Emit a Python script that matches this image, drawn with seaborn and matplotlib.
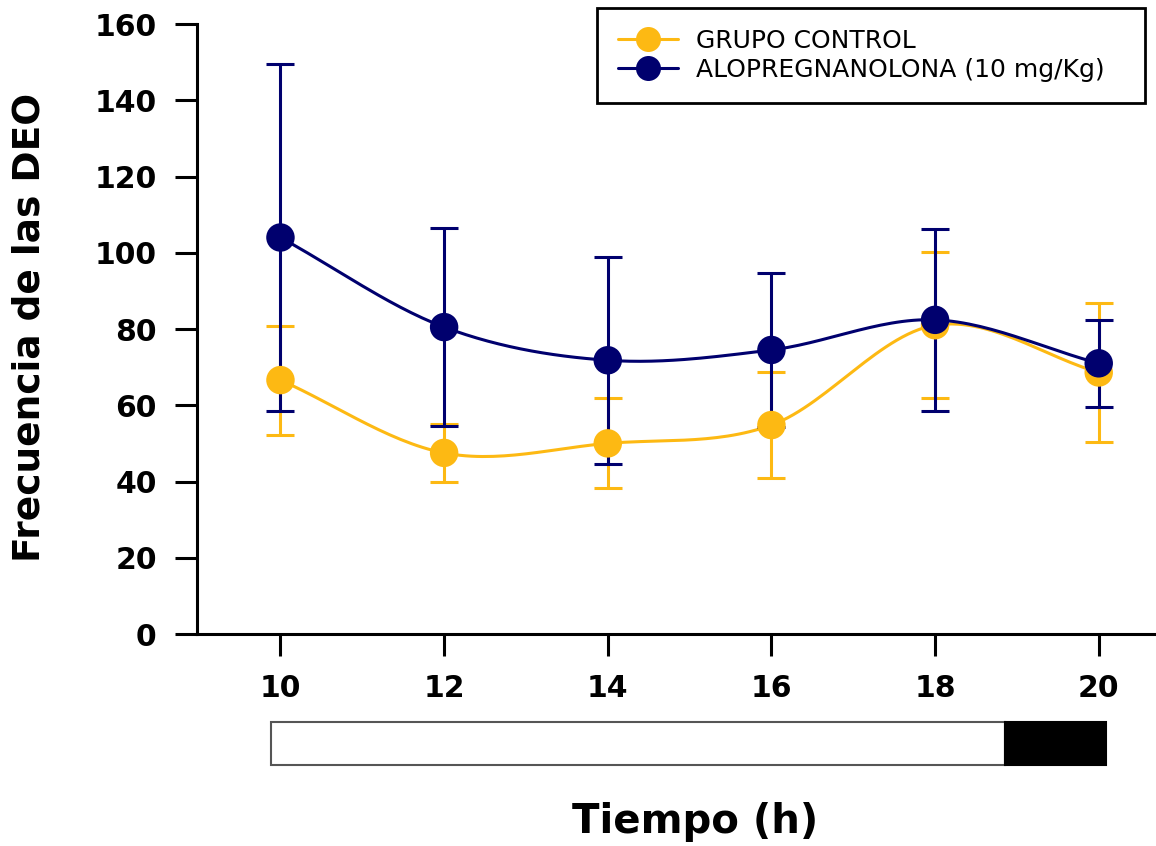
import numpy as np
import pandas as pd
import matplotlib
matplotlib.use("Agg")
import matplotlib.pyplot as plt
from matplotlib.patches import Rectangle
from matplotlib.lines import Line2D
import seaborn as sns

# --- data --------------------------------------------------------------
hours = [10, 12, 14, 16, 18, 20]
control_mean = [66.6, 47.5, 50.0, 54.8, 81.0, 68.6]
control_err = [14.3, 7.5, 11.8, 13.8, 19.2, 18.2]
alo_mean = [104.0, 80.5, 71.8, 74.5, 82.4, 71.0]
alo_err = [45.6, 26.0, 27.2, 20.3, 23.9, 11.4]
series_labels = ["GRUPO CONTROL", "ALOPREGNANOLONA (10 mg/Kg)"]
y_ticks = [0, 20, 40, 60, 80, 100, 120, 140, 160]

YELLOW = "#FDB913"
NAVY = "#00006E"

sns.set_style("white")
plt.rcParams["font.family"] = ["DejaVu Sans"]
plt.rcParams["text.color"] = "black"
plt.rcParams["xtick.color"] = "black"
plt.rcParams["ytick.color"] = "black"


def smooth(x, y, n=30):
    # Catmull-Rom curve through the points, only used to draw the line
    x = np.asarray(x, float)
    y = np.asarray(y, float)
    yp = np.concatenate([[2 * y[0] - y[1]], y, [2 * y[-1] - y[-2]]])
    xs, ys = [], []
    for i in range(len(x) - 1):
        p0, p1, p2, p3 = yp[i], yp[i + 1], yp[i + 2], yp[i + 3]
        t = np.linspace(0, 1, n, endpoint=(i == len(x) - 2))
        seg = 0.5 * ((2 * p1) + (-p0 + p2) * t
                     + (2 * p0 - 5 * p1 + 4 * p2 - p3) * t ** 2
                     + (-p0 + 3 * p1 - 3 * p2 + p3) * t ** 3)
        xs.append(x[i] + (x[i + 1] - x[i]) * t)
        ys.append(seg)
    return np.concatenate(xs), np.concatenate(ys)


fig = plt.figure(figsize=(11.56, 8.46), dpi=100)
ax = fig.add_axes([197 / 1156, 1 - 634 / 846, 1 - 197 / 1156, 610 / 846])

for mean, err, color in [(control_mean, control_err, YELLOW), (alo_mean, alo_err, NAVY)]:
    sx, sy = smooth(hours, mean)
    curve = pd.DataFrame({"x": sx, "y": sy})
    sns.lineplot(data=curve, x="x", y="y", color=color, lw=2.2, sort=False,
                 estimator=None, ax=ax, zorder=2)
    ax.errorbar(hours, mean, yerr=err, fmt="none", ecolor=color, elinewidth=2.2,
                capsize=10, capthick=2.2, zorder=3)
    pts = pd.DataFrame({"x": hours, "y": mean})
    sns.scatterplot(data=pts, x="x", y="y", color=color, s=420, edgecolor="none",
                    ax=ax, zorder=4)

ax.set_xlim(8.98, 20.7)
ax.set_ylim(0, 160)
ax.set_xticks(hours)
ax.set_yticks(y_ticks)
ax.set_xlabel("")
ax.set_ylabel("")
for side in ["top", "right"]:
    ax.spines[side].set_visible(False)
for side in ["left", "bottom"]:
    ax.spines[side].set_linewidth(2.2)
    ax.spines[side].set_color("black")
ax.tick_params(axis="both", direction="out", length=16, width=2.2, color="black",
               labelcolor="black", labelsize=21.5, pad=13, left=True, bottom=True)
for lab in ax.get_xticklabels() + ax.get_yticklabels():
    lab.set_fontweight("bold")

# light / dark bar under the time axis
tr = ax.get_xaxis_transform()
ax.add_patch(Rectangle((9.89, -0.215), 18.85 - 9.89, 0.07, transform=tr,
                       facecolor="white", edgecolor="#555555", lw=1.5, clip_on=False))
ax.add_patch(Rectangle((18.85, -0.215), 20.09 - 18.85, 0.07, transform=tr,
                       facecolor="black", edgecolor="black", lw=1.5, clip_on=False))

fig.text(695 / 1156, 1 - 822 / 846, "Tiempo (h)", ha="center", va="center",
         fontsize=29, fontweight="bold")
fig.text(30 / 1156, 1 - 327 / 846, "Frecuencia de las DEO", ha="center", va="center",
         rotation=90, fontsize=27, fontweight="bold")

handles = [Line2D([], [], color=c, lw=2.2, marker="o", markersize=18, markeredgewidth=0)
           for c in (YELLOW, NAVY)]
leg = ax.legend(handles, series_labels, loc="upper left", mode="expand",
                bbox_to_anchor=(597 / 1156, 1 - 102 / 846, 548 / 1156, 94 / 846),
                bbox_transform=fig.transFigure,
                fontsize=18, frameon=True, fancybox=False, framealpha=1,
                handlelength=2.4, handletextpad=0.7, labelspacing=0.2,
                borderpad=0.85, borderaxespad=0)
leg.get_frame().set_linewidth(2)
leg.get_frame().set_edgecolor("black")

fig.savefig("out.png", dpi=100)
